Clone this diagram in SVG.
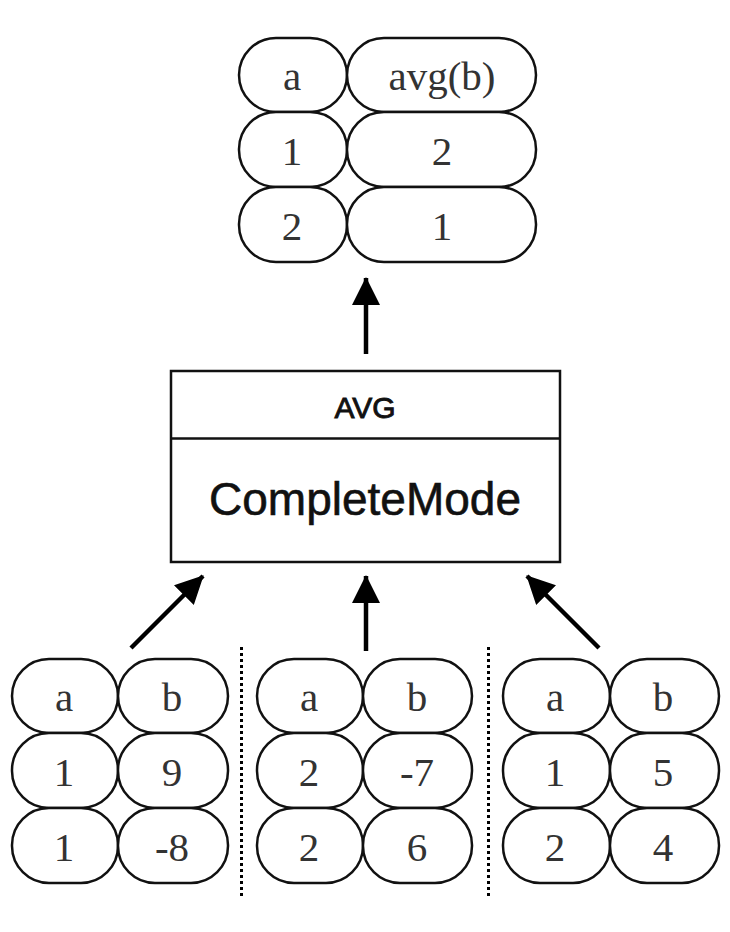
<svg xmlns="http://www.w3.org/2000/svg" width="730" height="932" viewBox="0 0 730 932">
<defs>
<style>
.cell{fill:#fff;stroke:#111;stroke-width:2.5}
.t{font-family:"Liberation Serif","DejaVu Serif",serif;font-size:41px;fill:#333;text-anchor:middle}
.box{fill:#fff;stroke:#111;stroke-width:2.5}
.s{font-family:"Liberation Sans",Arial,sans-serif;fill:#111;stroke:#111;text-anchor:middle}
.arr{stroke:#000;stroke-width:4.5;fill:none;marker-end:url(#ah)}
.dot{stroke:#000;stroke-width:3;stroke-dasharray:3 3;fill:none}
</style>
<marker id="ah" markerUnits="userSpaceOnUse" viewBox="0 0 28 28" refX="27" refY="14" markerWidth="28" markerHeight="28" orient="auto">
<path d="M0,0 L28,14 L0,28 Z" fill="#000"/>
</marker>
</defs>
<rect width="730" height="932" fill="#fff"/>

<g id="result-table">
<rect class="cell" x="239" y="38" width="108" height="74" rx="37"/>
<rect class="cell" x="347" y="38" width="189" height="74" rx="37"/>
<rect class="cell" x="239" y="112" width="108" height="75" rx="37"/>
<rect class="cell" x="347" y="112" width="189" height="75" rx="37"/>
<rect class="cell" x="239" y="187" width="108" height="75" rx="37"/>
<rect class="cell" x="347" y="187" width="189" height="75" rx="37"/>
<text class="t" x="292" y="90">a</text>
<text class="t" x="442" y="90">avg(b)</text>
<text class="t" x="292" y="165">1</text>
<text class="t" x="442" y="165">2</text>
<text class="t" x="292" y="240">2</text>
<text class="t" x="442" y="240">1</text>
</g>

<g id="avg-node">
<rect class="box" x="171" y="371" width="389" height="191"/>
<line x1="171" y1="438.5" x2="560" y2="438.5" stroke="#111" stroke-width="2.5"/>
<text class="s" x="365" y="418" font-size="30" stroke-width="0.9">AVG</text>
<text class="s" x="365" y="515" font-size="46" stroke-width="0.6">CompleteMode</text>
</g>

<g id="input-table-1">
<rect class="cell" x="12" y="659" width="106" height="74" rx="37"/>
<rect class="cell" x="118" y="659" width="110" height="74" rx="37"/>
<rect class="cell" x="12" y="733" width="106" height="75" rx="37"/>
<rect class="cell" x="118" y="733" width="110" height="75" rx="37"/>
<rect class="cell" x="12" y="808" width="106" height="75" rx="37"/>
<rect class="cell" x="118" y="808" width="110" height="75" rx="37"/>
<text class="t" x="64" y="711">a</text>
<text class="t" x="172" y="711">b</text>
<text class="t" x="64" y="786">1</text>
<text class="t" x="172" y="786">9</text>
<text class="t" x="64" y="861">1</text>
<text class="t" x="172" y="861">-8</text>
</g>

<g id="input-table-2">
<rect class="cell" x="257" y="659" width="106" height="74" rx="37"/>
<rect class="cell" x="363" y="659" width="109" height="74" rx="37"/>
<rect class="cell" x="257" y="733" width="106" height="75" rx="37"/>
<rect class="cell" x="363" y="733" width="109" height="75" rx="37"/>
<rect class="cell" x="257" y="808" width="106" height="75" rx="37"/>
<rect class="cell" x="363" y="808" width="109" height="75" rx="37"/>
<text class="t" x="309" y="711">a</text>
<text class="t" x="417" y="711">b</text>
<text class="t" x="309" y="786">2</text>
<text class="t" x="417" y="786">-7</text>
<text class="t" x="309" y="861">2</text>
<text class="t" x="417" y="861">6</text>
</g>

<g id="input-table-3">
<rect class="cell" x="503" y="659" width="107" height="74" rx="37"/>
<rect class="cell" x="610" y="659" width="109" height="74" rx="37"/>
<rect class="cell" x="503" y="733" width="107" height="75" rx="37"/>
<rect class="cell" x="610" y="733" width="109" height="75" rx="37"/>
<rect class="cell" x="503" y="808" width="107" height="75" rx="37"/>
<rect class="cell" x="610" y="808" width="109" height="75" rx="37"/>
<text class="t" x="555" y="711">a</text>
<text class="t" x="663" y="711">b</text>
<text class="t" x="555" y="786">1</text>
<text class="t" x="663" y="786">5</text>
<text class="t" x="555" y="861">2</text>
<text class="t" x="663" y="861">4</text>
</g>

<g id="separators">
<line class="dot" x1="241.5" y1="647" x2="241.5" y2="896"/>
<line class="dot" x1="488.5" y1="647" x2="488.5" y2="896"/>
</g>

<g id="connectors">
<line class="arr" x1="366" y1="354" x2="366" y2="278"/>
<line class="arr" x1="131" y1="648" x2="203" y2="576"/>
<line class="arr" x1="366" y1="651" x2="366" y2="576"/>
<line class="arr" x1="599" y1="648" x2="527" y2="576"/>
</g>
</svg>
